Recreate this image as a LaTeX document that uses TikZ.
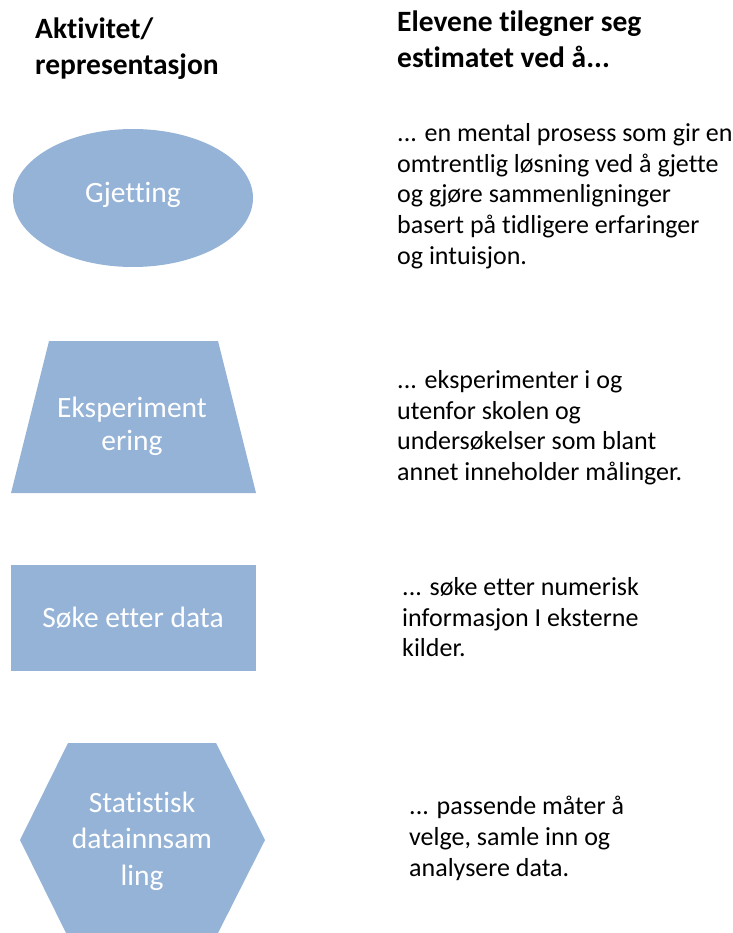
\documentclass[tikz,border=0pt]{standalone}
\usepackage{fontspec}
\setmainfont{Carlito}[Ligatures=NoCommon]
\definecolor{formblue}{HTML}{95B3D7}

\begin{document}
\begin{tikzpicture}[x=1pt,y=-1pt,
  form/.style={fill=formblue},
  formtext/.style={text=white, font=\fontsize{29.5}{35}\selectfont, align=center},
  head/.style={font=\bfseries\fontsize{29.5}{36}\selectfont, align=left, anchor=north west, inner sep=0pt},
  desc/.style={font=\fontsize{26}{30.8}\selectfont, align=left, anchor=north west, inner sep=0pt}]
\useasboundingbox (0,0) rectangle (732,933);
\clip (0,0) rectangle (732,933);
% headings
\node[head] (akt) at (35,18) {Aktivitet/\\representasjon};
\node[head] (elev) at (397,11) {Elevene tilegner seg\\estimatet ved å...};
% shapes
\fill[form] (133,198) ellipse [x radius=120pt, y radius=69pt];
\fill[form] (49,341) -- (218,341) -- (256,493) -- (11,493) -- cycle;
\fill[form] (11,565) rectangle (256,671);
\fill[form] (68,743) -- (216,743) -- (265,840) -- (216,937) -- (68,937) -- (20,840) -- cycle;
\node[formtext] (gjett) at (133,195) {Gjetting};
\node[formtext] (eksp) at (132,426.5) {Eksperiment\\[-2pt]ering};
\node[formtext] (soke) at (133,618) {Søke etter data};
\node[formtext] (stat) at (142,841) {Statistisk\\[1.5pt]datainnsam\\[1.5pt]ling};
% descriptions
\node[desc] (d1) at (397,123) {... en mental prosess som gir en\\omtrentlig løsning ved å gjette\\og gjøre sammenligninger\\basert på tidligere erfaringer\\og intuisjon.};
\node[desc] (d2) at (397,370) {... eksperimenter i og\\utenfor skolen og\\undersøkelser som blant\\annet inneholder målinger.};
\node[desc] (d3) at (402,577) {... søke etter numerisk\\informasjon I eksterne\\kilder.};
\node[desc] (d4) at (409,796) {... passende måter å\\velge, samle inn og\\analysere data.};
\end{tikzpicture}
\end{document}
